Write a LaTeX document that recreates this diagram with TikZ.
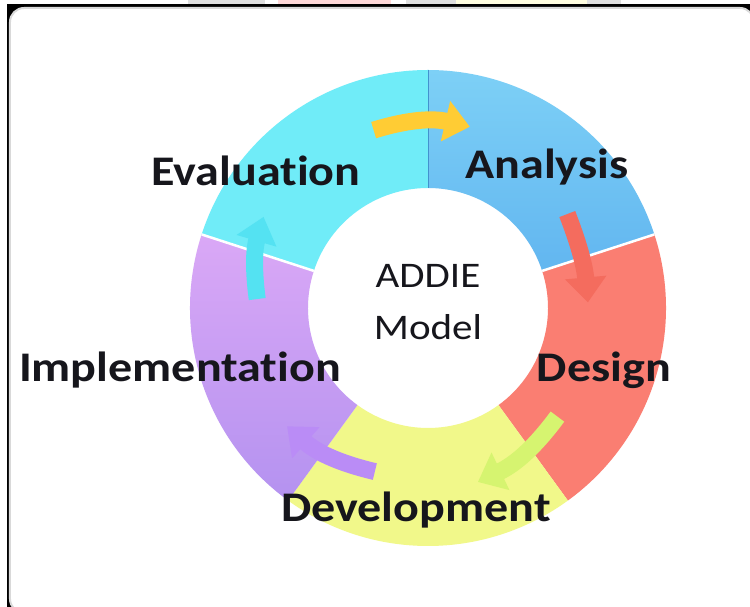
\documentclass[tikz,border=0pt]{standalone}
\usepackage{fontspec}
\setmainfont{Carlito}[Ligatures=NoCommon]
\usepackage{graphicx}
\usepackage{xcolor}
\usetikzlibrary{arrows.meta}
\definecolor{evalcol}{RGB}{112,236,248}
\definecolor{analtop}{RGB}{125,208,246}
\definecolor{analbot}{RGB}{98,182,240}
\definecolor{descol}{RGB}{250,126,114}
\definecolor{devcol}{RGB}{241,248,138}
\definecolor{impltop}{RGB}{218,168,246}
\definecolor{implbot}{RGB}{180,146,240}
\definecolor{arrgold}{RGB}{255,204,52}
\definecolor{arrred}{RGB}{244,108,94}
\definecolor{arrlime}{RGB}{214,244,112}
\definecolor{arrviolet}{RGB}{186,140,246}
\definecolor{arrcyan}{RGB}{84,226,242}
\definecolor{divcol}{RGB}{66,146,206}
\definecolor{txtcol}{RGB}{22,22,28}
\newcommand{\wide}[1]{\scalebox{1.14}[1]{#1}}
\tikzset{
  lbl/.style={font=\bfseries\fontsize{24}{28}\selectfont, text=txtcol, anchor=base, inner sep=0pt},
  ctr/.style={font=\fontsize{20.5}{24}\selectfont, text=txtcol, anchor=base, inner sep=0pt},
  flow/.style={line width=0.34cm, -{Triangle[width=0.8cm,length=0.5cm]}},
}

\begin{document}
\begin{tikzpicture}[x=0.02cm, y=0.02cm]
\useasboundingbox (-428,-299) rectangle (322,308);
\fill[white] (-428,-299) rectangle (322,308);
\fill[gray!25] (-240,304) rectangle (-163,308);
\fill[red!15] (-150,304) rectangle (-37,308);
\fill[gray!25] (-22,304) rectangle (28,308);
\fill[yellow!12] (28,304) rectangle (159,308);
\fill[gray!25] (159,304) rectangle (193,308);
\fill[black] (-421,-299) rectangle (322,304);
\fill[white, draw=gray!30, line width=0.04cm, rounded corners=0.28cm] (-418,-305) rectangle (326,300);

\fill[evalcol] (90:238) arc[start angle=90, end angle=162, radius=238] -- (162:120) arc[start angle=162, end angle=90, radius=120] -- cycle;
\shade[top color=analtop, bottom color=analbot] (90:238) arc[start angle=90, end angle=18, radius=238] -- (18:120) arc[start angle=18, end angle=90, radius=120] -- cycle;
\fill[descol] (18:238) arc[start angle=18, end angle=-54, radius=238] -- (-54:120) arc[start angle=-54, end angle=18, radius=120] -- cycle;
\fill[devcol] (-54:238) arc[start angle=-54, end angle=-126, radius=238] -- (-126:120) arc[start angle=-126, end angle=-54, radius=120] -- cycle;
\shade[top color=impltop, bottom color=implbot] (-126:238) arc[start angle=-126, end angle=-198, radius=238] -- (162:120) arc[start angle=162, end angle=234, radius=120] -- cycle;
\draw[divcol, line width=0.02cm] (90:120) -- (90:238);
\draw[white, line width=0.05cm] (18:120) -- (18:238);
\draw[white, line width=0.05cm] (162:120) -- (162:238);

\coordinate (ev-an-s) at (107:186);
\coordinate (ev-an-e) at (77:186);
\coordinate (an-de-s) at (34:168);
\coordinate (an-de-e) at (2:160);
\coordinate (de-dv-s) at (-40:169);
\coordinate (de-dv-e) at (-74:181);
\coordinate (dv-im-s) at (252:172);
\coordinate (dv-im-e) at (220:184);
\coordinate (im-ev-s) at (177:171);
\coordinate (im-ev-e) at (151:188);
\draw[flow, arrgold] (ev-an-s) to[bend left=15] (ev-an-e);
\draw[flow, arrred] (an-de-s) to[bend left=8] (an-de-e);
\draw[flow, arrlime] (de-dv-s) to[bend left=14] (de-dv-e);
\draw[flow, arrviolet] (dv-im-s) to[bend left=14] (dv-im-e);
\draw[flow, arrcyan] (im-ev-s) to[bend left=12] (im-ev-e);

\node[lbl] (evaluation) at (-172,122) {\wide{Evaluation}};
\node[lbl] (analysis) at (119,129) {\wide{Analysis}};
\node[lbl] (design) at (176,-74) {\wide{Design}};
\node[lbl] (development) at (-12,-214) {\wide{Development}};
\node[lbl] (implementation) at (-248,-74) {\wide{Implementation}};
\node[ctr] (addie) at (0,20) {\wide{ADDIE}};
\node[ctr] (model) at (0,-32) {\wide{Model}};
\end{tikzpicture}
\end{document}
